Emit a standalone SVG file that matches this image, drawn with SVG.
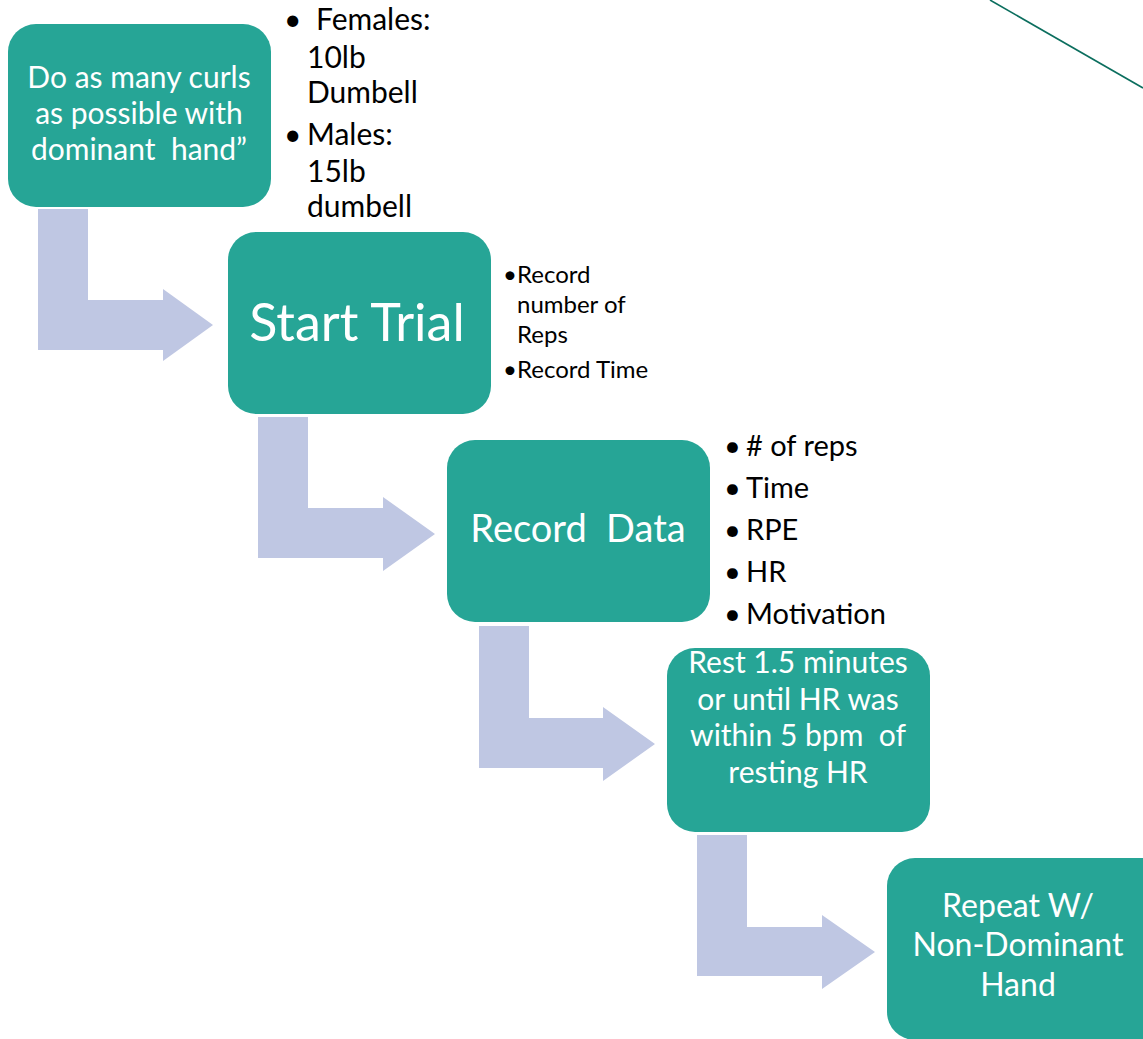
<svg xmlns="http://www.w3.org/2000/svg" width="1143" height="1039" viewBox="0 0 1143 1039">
<style>
.box{fill:#26a596;}
.arr{fill:#bfc7e3;}
.t{font-family:Lato,"Liberation Sans",sans-serif;fill:#ffffff;text-anchor:middle;}
.b{font-family:Lato,"Liberation Sans",sans-serif;fill:#000000;}
</style>
<rect width="1143" height="1039" fill="#ffffff"/>
<line x1="990" y1="0" x2="1143" y2="88" stroke="#0b6e5e" stroke-width="1.6"/>
<g id="connectors">
<path class="arr" d="M38,209 H88 V300 H163 V289 L213,325 L163,361 V350 H38 Z"/>
<path class="arr" d="M258,417 H308 V508 H383 V497 L435,534 L383,571 V558 H258 Z"/>
<path class="arr" d="M479,626 H529 V718 H603 V707 L655,744 L603,781 V768 H479 Z"/>
<path class="arr" d="M697,835 H747 V927 H822 V915 L875,952 L822,989 V976 H697 Z"/>
</g>
<g id="n1">
<rect class="box" x="8" y="24" width="263" height="183" rx="28"/>
<text class="t" font-size="30"><tspan x="139" y="88">Do as many curls</tspan><tspan x="139" y="124">as possible with</tspan><tspan x="139" y="160" xml:space="preserve">dominant  hand”</tspan></text>
</g>
<g id="n1-notes">
<text class="b" font-size="30"><tspan x="284" y="30">•</tspan><tspan x="316" y="30">Females:</tspan><tspan x="307" y="68">10lb</tspan><tspan x="307" y="103">Dumbell</tspan><tspan x="284" y="145">•</tspan><tspan x="307" y="145">Males:</tspan><tspan x="307" y="182">15lb</tspan><tspan x="307" y="217">dumbell</tspan></text>
</g>
<g id="n2">
<rect class="box" x="228" y="232" width="263" height="182" rx="28"/>
<text class="t" font-size="52" x="357" y="341">Start Trial</text>
</g>
<g id="n2-notes">
<text class="b" font-size="24"><tspan x="503" y="283">•</tspan><tspan x="517" y="283">Record</tspan><tspan x="517" y="313">number of</tspan><tspan x="517" y="343">Reps</tspan><tspan x="503" y="378">•</tspan><tspan x="517" y="378">Record Time</tspan></text>
</g>
<g id="n3">
<rect class="box" x="447" y="440" width="263" height="182" rx="28"/>
<text class="t" font-size="38" x="578" y="542" xml:space="preserve">Record  Data</text>
</g>
<g id="n3-notes">
<text class="b" font-size="29"><tspan x="724" y="456">•</tspan><tspan x="746" y="456"># of reps</tspan><tspan x="724" y="498">•</tspan><tspan x="746" y="498">Time</tspan><tspan x="724" y="540">•</tspan><tspan x="746" y="540">RPE</tspan><tspan x="724" y="582">•</tspan><tspan x="746" y="582">HR</tspan><tspan x="724" y="624">•</tspan><tspan x="746" y="624">Motivation</tspan></text>
</g>
<g id="n4">
<rect class="box" x="667" y="648" width="263" height="184" rx="28"/>
<text class="t" font-size="30"><tspan x="798" y="673">Rest 1.5 minutes</tspan><tspan x="798" y="710">or until HR was</tspan><tspan x="798" y="746" xml:space="preserve">within 5 bpm  of</tspan><tspan x="798" y="783">resting HR</tspan></text>
</g>
<g id="n5">
<rect class="box" x="887" y="858" width="290" height="182" rx="28"/>
<text class="t" font-size="32"><tspan x="1018" y="917">Repeat W/</tspan><tspan x="1018" y="956">Non-Dominant</tspan><tspan x="1018" y="996">Hand</tspan></text>
</g>
</svg>
